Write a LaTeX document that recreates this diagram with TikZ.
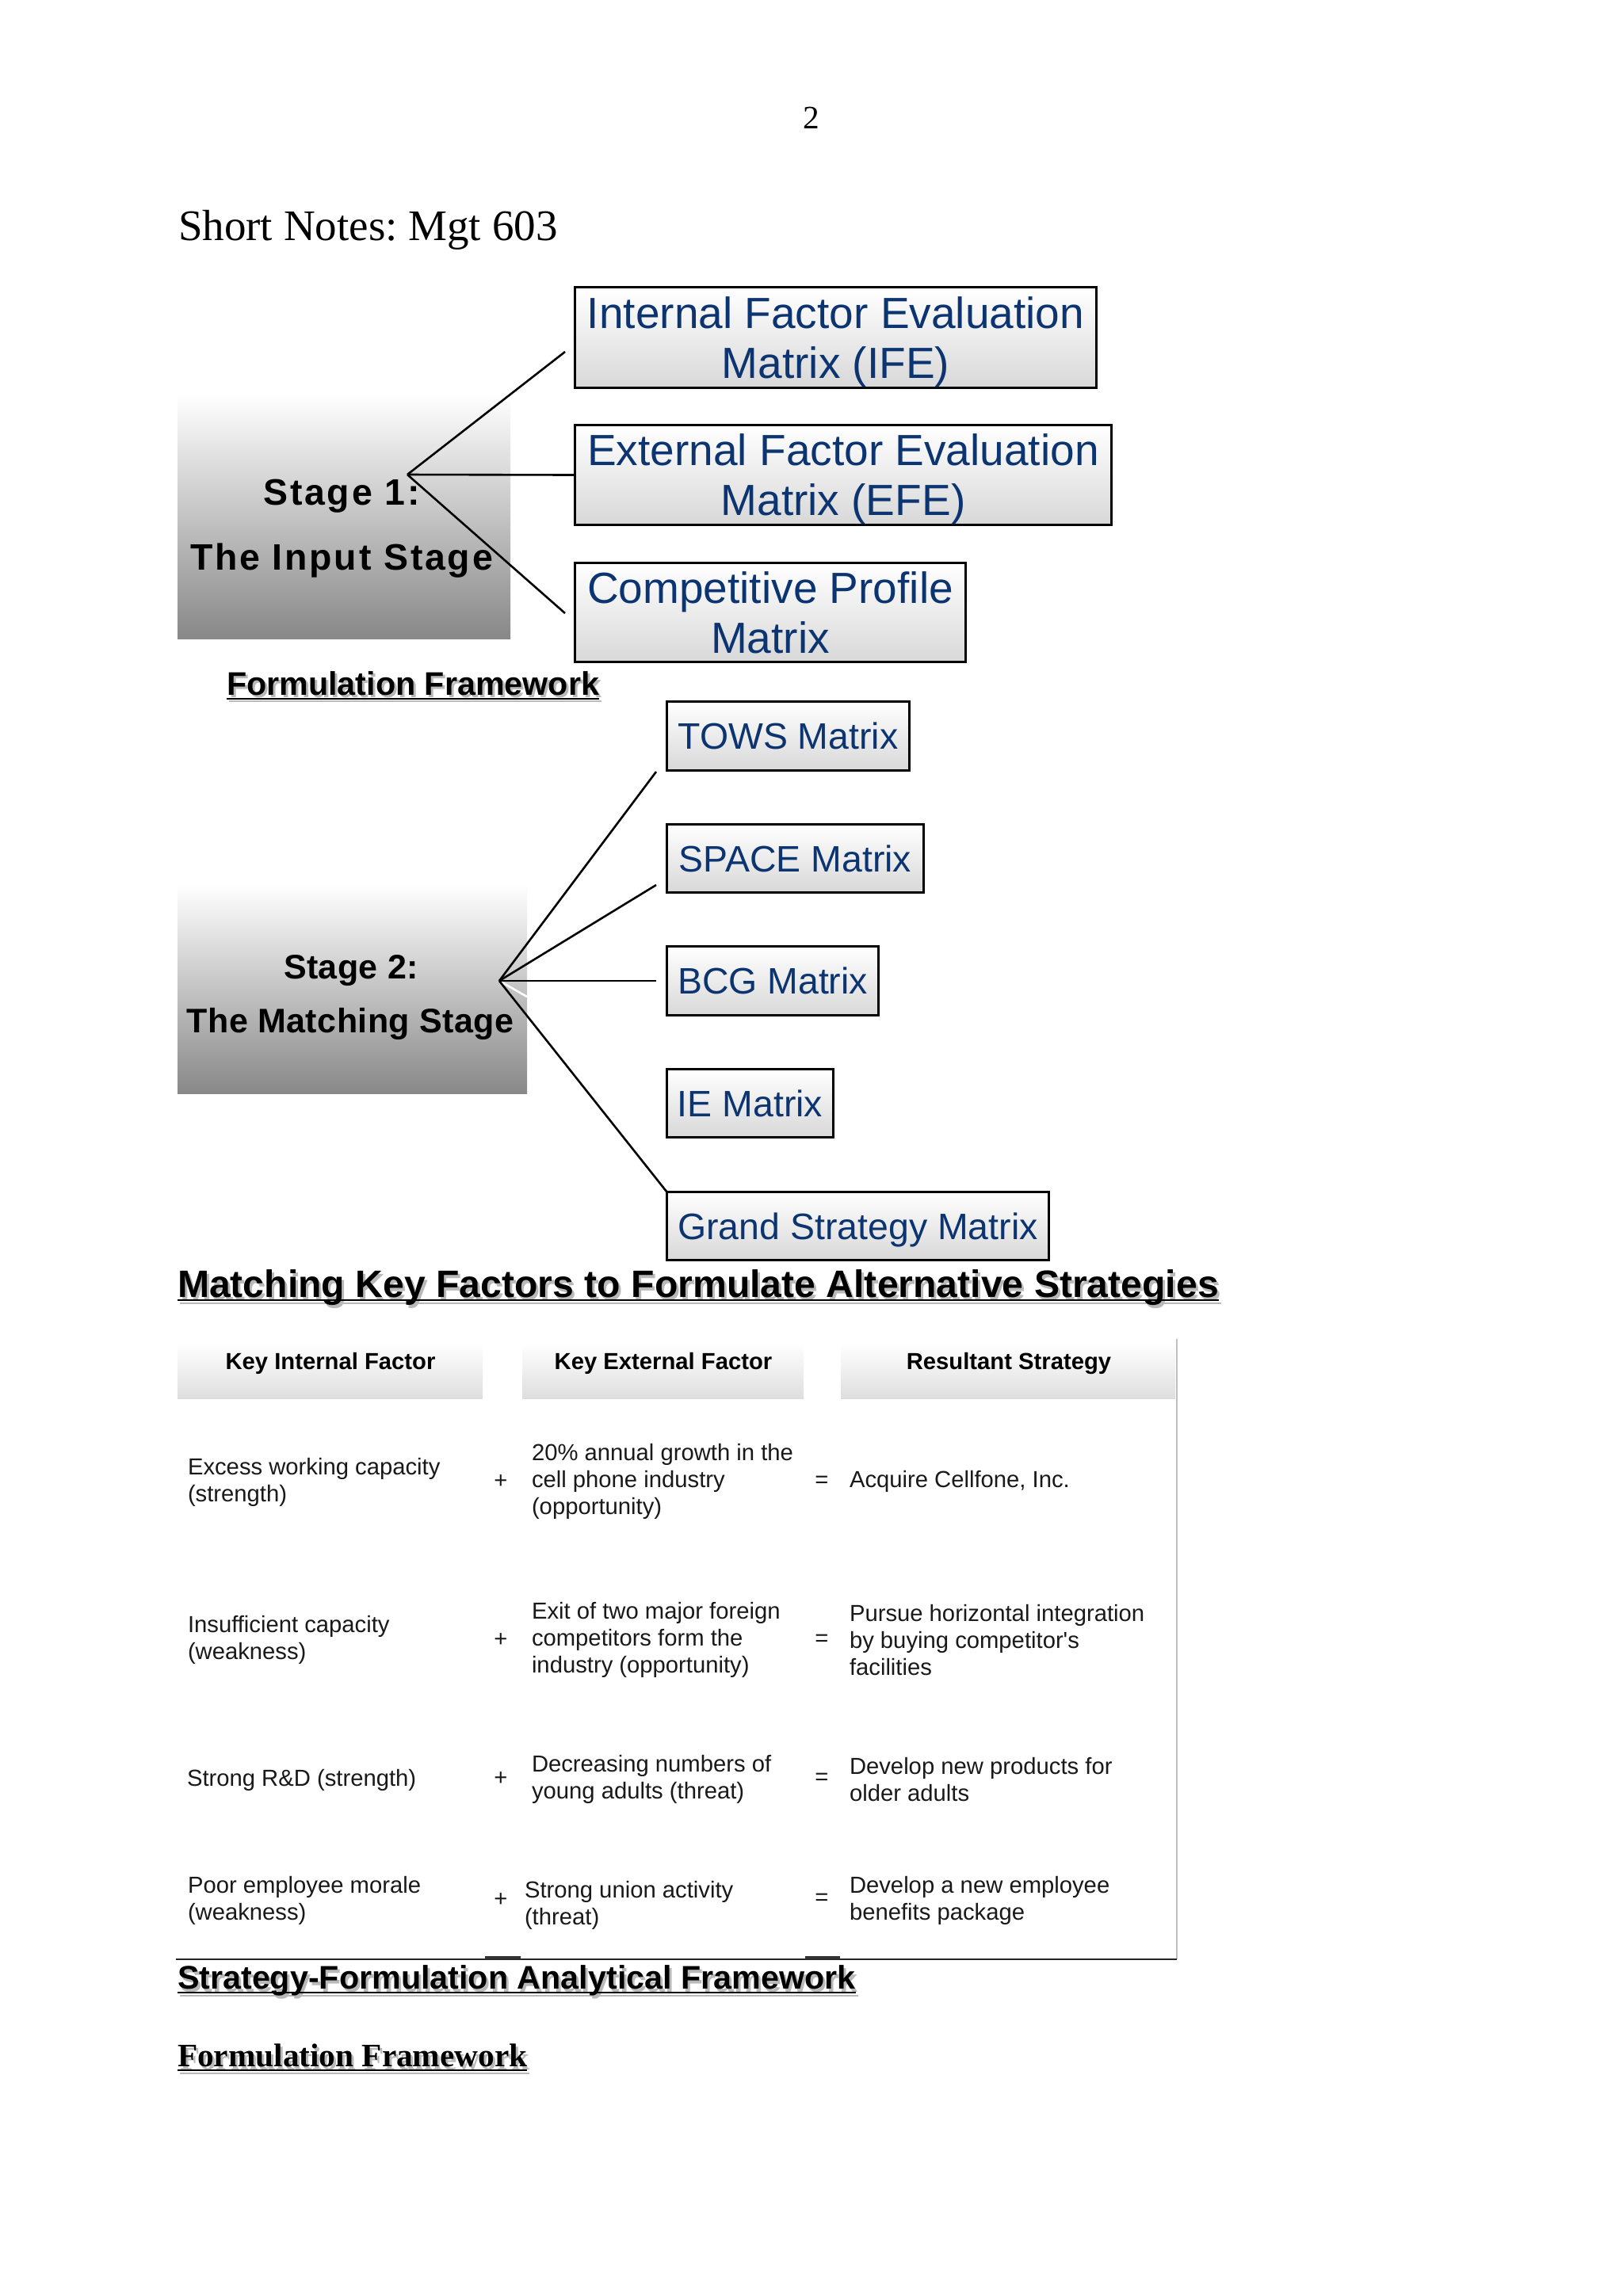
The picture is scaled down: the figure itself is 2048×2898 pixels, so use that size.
\documentclass[tikz,border=0pt]{standalone}
\usepackage{fontspec}
\setmainfont{Liberation Serif}
\newfontfamily\arial{Liberation Sans}
\newfontfamily\arialA[LetterSpace=6]{Liberation Sans}
\newfontfamily\arialB[LetterSpace=1]{Liberation Sans}
\usetikzlibrary{calc}
\definecolor{mblue}{RGB}{12,52,112}
\definecolor{stagegray}{RGB}{136,136,136}
\definecolor{boxgray}{RGB}{216,216,216}
\definecolor{shadowgray}{RGB}{185,185,185}
\definecolor{hdrgray}{RGB}{222,222,222}
\definecolor{bodyblack}{RGB}{25,25,25}
\newcommand{\pu}{0.29069pt}
\newcommand{\nodp}[1]{\raisebox{0pt}[\height][0pt]{#1}}
\frenchspacing
\begin{document}
\begin{tikzpicture}[x=0.29069pt,y=-0.29069pt,
  every node/.style={inner sep=0pt, outer sep=0pt},
  stagebox/.style={rectangle, top color=white, bottom color=stagegray, draw=none},
  mbox/.style={rectangle, draw=black, line width=3*\pu, top color=white, bottom color=boxgray, text=mblue, align=center},
  mboxA/.style={mbox, font=\arial\fontsize{16}{18.3}\selectfont},
  mboxB/.style={mbox, text depth=0pt, font=\arial\fontsize{13.5}{16}\selectfont},
  stagetxtA/.style={anchor=base, font=\arialA\bfseries\fontsize{13.5}{16}\selectfont, text=black},
  stagetxtB/.style={anchor=base, font=\arialB\bfseries\fontsize{12.5}{15}\selectfont, text=black},
  conn/.style={draw=black, line width=2.6*\pu},
  hdrcell/.style={rectangle, top color=white, bottom color=hdrgray, draw=none},
  hdrtxt/.style={font=\arial\bfseries\fontsize{8.5}{10}\selectfont, text=black},
  body/.style={anchor=west, align=left, font=\arial\fontsize{8.5}{9.9}\selectfont, text=bodyblack},
  op/.style={font=\arial\fontsize{8.5}{9.9}\selectfont, text=bodyblack},
  headA/.style={anchor=base west, font=\arial\bfseries\fontsize{12}{14}\selectfont},
  headB/.style={anchor=base west, font=\arial\bfseries\fontsize{14}{16}\selectfont},
  headC/.style={anchor=base west, font=\bfseries\fontsize{12}{14}\selectfont},
  ul/.style={line width=2.2*\pu}
]
\useasboundingbox (0,0) rectangle (2048,2898);
\fill[white] (0,0) rectangle (2048,2898);

% page header
\node (pg) [anchor=base, font=\fontsize{12}{14}\selectfont] at (1024,162) {2};
\node (title) [anchor=base west, font=\fontsize{16}{19}\selectfont] at (225,303) {Short Notes: Mgt 603};

% ---------- Stage 1 ----------
\node (s1) [stagebox, minimum width=420*\pu, minimum height=309*\pu] at (434,651.5) {};
\node (s1a) [stagetxtA] at (431,637) {Stage 1:};
\node (s1b) [stagetxtA] at (431,719) {The Input Stage};

\node (ife) [mboxA, minimum width=658*\pu, minimum height=127*\pu] at (1054.5,426) {Internal Factor Evaluation\\\nodp{Matrix (IFE)}};
\node (efe) [mboxA, minimum width=677*\pu, minimum height=126*\pu] at (1064,599.5) {External Factor Evaluation\\\nodp{Matrix (EFE)}};
\node (cpm) [mboxA, minimum width=493*\pu, minimum height=125*\pu] at (972,773) {Competitive Profile\\Matrix};

\coordinate (f1) at (514,599);
\coordinate (e1a) at (713,444);
\coordinate (e1c) at (713,774);
\draw[conn] (f1) -- (e1a);
\draw[conn] (f1) -- (efe.west);
\draw[conn] (f1) -- (e1c);

% heading: Formulation Framework
\node (ff1s) [headA, text=shadowgray] at (289,880) {Formulation Framework};
\draw[ul, shadowgray] ([yshift=-5*\pu]ff1s.base west) -- ([yshift=-5*\pu]ff1s.base east);
\node (ff1) [headA, text=black] at (286,877) {Formulation Framework};
\draw[ul, black] ([yshift=-5*\pu]ff1.base west) -- ([yshift=-5*\pu]ff1.base east);

% ---------- Stage 2 ----------
\node (s2) [stagebox, minimum width=441*\pu, minimum height=264*\pu] at (444.5,1248) {};
\node (s2a) [stagetxtB] at (443,1235) {Stage 2:};
\node (s2b) [stagetxtB] at (442,1303) {The Matching Stage};

\node (tows) [mboxB, minimum width=306*\pu, minimum height=87*\pu] at (994.5,929) {TOWS Matrix};
\node (space) [mboxB, minimum width=324*\pu, minimum height=86*\pu] at (1003.5,1083.5) {SPACE Matrix};
\node (bcg) [mboxB, minimum width=267*\pu, minimum height=87*\pu] at (975,1238) {BCG Matrix};
\node (ie) [mboxB, minimum width=210*\pu, minimum height=86*\pu] at (946.5,1392.5) {IE Matrix};
\node (grand) [mboxB, minimum width=482*\pu, minimum height=86*\pu] at (1082.5,1547.5) {Grand Strategy Matrix};

\coordinate (f2) at (630,1238);
\coordinate (w2) at (665,1258);
\coordinate (e2a) at (828,974);
\coordinate (e2b) at (828,1117);
\coordinate (e2c) at (828,1238);
\draw[white, line width=2.6*\pu] (f2) -- (w2);
\draw[conn] (f2) -- (e2a);
\draw[conn] (f2) -- (e2b);
\draw[conn] (f2) -- (e2c);
\draw[conn] (f2) -- (grand.north west);

% heading: Matching Key Factors
\node (mks) [headB, text=shadowgray] at (227,1641) {Matching Key Factors to Formulate Alternative Strategies};
\draw[ul, shadowgray, line width=2.8*\pu] ([yshift=-4*\pu]mks.base west) -- ([yshift=-4*\pu]mks.base east);
\node (mk) [headB, text=black] at (224,1637) {Matching Key Factors to Formulate Alternative Strategies};
\draw[ul, black, line width=2.8*\pu] ([yshift=-4*\pu]mk.base west) -- ([yshift=-4*\pu]mk.base east);

% ---------- Table ----------
\node (h1) [hdrcell, minimum width=385*\pu, minimum height=70*\pu] at (416.5,1730) {};
\node (h2) [hdrcell, minimum width=355*\pu, minimum height=70*\pu] at (836.5,1730) {};
\node (h3) [hdrcell, minimum width=422*\pu, minimum height=70*\pu] at (1272,1730) {};
\node (h1t) [hdrtxt] at (417,1721) {Key Internal Factor};
\node (h2t) [hdrtxt] at (837,1721) {Key External Factor};
\node (h3t) [hdrtxt] at (1273,1721) {Resultant Strategy};

% row 1
\node (r1a) [body] at (237,1871) {Excess working capacity\\(strength)};
\node (r1p) [op] at (632,1870) {+};
\node (r1b) [body] at (671,1870) {20\% annual growth in the\\cell phone industry\\(opportunity)};
\node (r1e) [op] at (1037,1870) {=};
\node (r1c) [body] at (1072,1870) {Acquire Cellfone, Inc.};
% row 2
\node (r2a) [body] at (237,2070) {Insufficient capacity\\(weakness)};
\node (r2p) [op] at (632,2070) {+};
\node (r2b) [body] at (671,2070) {Exit of two major foreign\\competitors form the\\industry (opportunity)};
\node (r2e) [op] at (1037,2070) {=};
\node (r2c) [body] at (1072,2070) {Pursue horizontal integration\\by buying competitor's\\facilities};
% row 3
\node (r3a) [body] at (236,2247) {Strong R\&D (strength)};
\node (r3p) [op] at (632,2245) {+};
\node (r3b) [body] at (671,2246) {Decreasing numbers of\\young adults (threat)};
\node (r3e) [op] at (1037,2245) {=};
\node (r3c) [body] at (1072,2246) {Develop new products for\\older adults};
% row 4
\node (r4a) [body] at (237,2399) {Poor employee morale\\(weakness)};
\node (r4p) [op] at (632,2398) {+};
\node (r4b) [body] at (662,2405) {Strong union activity\\(threat)};
\node (r4e) [op] at (1037,2397) {=};
\node (r4c) [body] at (1072,2399) {Develop a new employee\\benefits package};

\coordinate (tbl) at (222,2473);
\coordinate (tbr) at (1485,2473);
\coordinate (ttr) at (1485,1690);
\draw[black!25, line width=1.5*\pu] (ttr) -- (tbr);
\draw[black!85, line width=2.5*\pu] (tbl) -- (tbr);
\fill[black!80] (612,2469) rectangle (657,2473);
\fill[black!80] (1016,2469) rectangle (1060,2473);

% heading: Strategy-Formulation Analytical Framework
\node (sfs) [headA, text=shadowgray] at (227,2514) {Strategy-Formulation Analytical Framework};
\draw[ul, shadowgray] ([yshift=-5*\pu]sfs.base west) -- ([yshift=-5*\pu]sfs.base east);
\node (sf) [headA, text=black] at (224,2510) {Strategy-Formulation Analytical Framework};
\draw[ul, black] ([yshift=-5*\pu]sf.base west) -- ([yshift=-5*\pu]sf.base east);

% heading: Formulation Framework (serif)
\node (ff2s) [headC, text=shadowgray] at (227,2612) {Formulation Framework};
\draw[ul, shadowgray] ([yshift=-5*\pu]ff2s.base west) -- ([yshift=-5*\pu]ff2s.base east);
\node (ff2) [headC, text=black] at (224,2608) {Formulation Framework};
\draw[ul, black] ([yshift=-5*\pu]ff2.base west) -- ([yshift=-5*\pu]ff2.base east);
\end{tikzpicture}
\end{document}
